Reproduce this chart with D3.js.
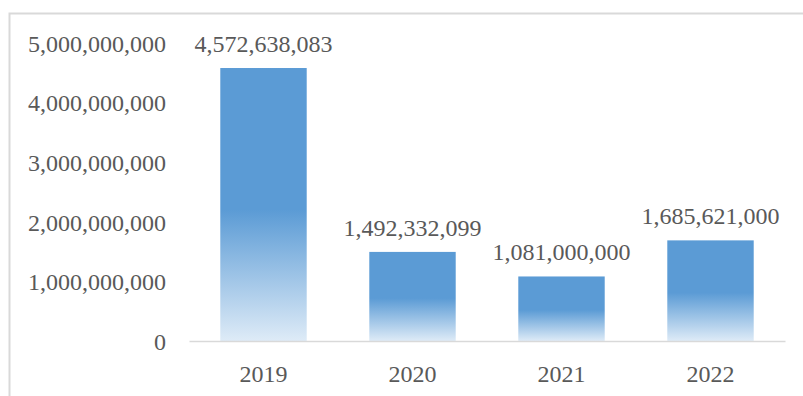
<!DOCTYPE html>
<html>
<head>
<meta charset="utf-8">
<script src="https://cdn.jsdelivr.net/npm/d3@7"></script>
<style>
  html, body { margin: 0; padding: 0; background: #fff; }
  svg { display: block; }
  text { font-family: "Liberation Serif", "Times New Roman", serif; fill: #595959; }
</style>
</head>
<body>
<div id="chart"></div>
<script>
// data
var years = ["2019", "2020", "2021", "2022"];
var amounts = [4572638083, 1492332099, 1081000000, 1685621000];
var yTicks = [0, 1000000000, 2000000000, 3000000000, 4000000000, 5000000000];

(function () {
  var W = 803, H = 396;
  var svg = d3.select("#chart").append("svg").attr("width", W).attr("height", H);

  // outer chart frame (runs off the right and bottom)
  svg.append("rect")
    .attr("x", 9.5).attr("y", 13.5)
    .attr("width", 820).attr("height", 420)
    .attr("fill", "none").attr("stroke", "#d9d9d9").attr("stroke-width", 2);

  var x = d3.scaleBand().domain(years).range([189, 785]).paddingInner(0.42).paddingOuter(0.21);
  var y = d3.scaleLinear().domain([0, 5000000000]).range([341, 42.5]);

  var fmt = d3.format(",");

  var grad = svg.append("defs").append("linearGradient")
    .attr("id", "barGrad").attr("x1", 0).attr("y1", 0).attr("x2", 0).attr("y2", 1);
  grad.append("stop").attr("offset", "0%").attr("stop-color", "#5b9bd5");
  grad.append("stop").attr("offset", "52%").attr("stop-color", "#5b9bd5");
  grad.append("stop").attr("offset", "100%").attr("stop-color", "#deebf7");

  // y axis labels only
  var yAxis = d3.axisLeft(y).tickValues(yTicks).tickFormat(fmt).tickSize(0).tickPadding(0);
  var gy = svg.append("g").attr("transform", "translate(166,0)").call(yAxis);
  gy.select(".domain").remove();
  gy.selectAll("text").style("font-size", "24px").attr("fill", "#595959")
    .style("font-family", "Liberation Serif, serif").attr("dy", "0.36em");

  // bars
  svg.selectAll("rect.bar").data(amounts).enter().append("rect")
    .attr("class", "bar")
    .attr("x", function (d, i) { return x(years[i]); })
    .attr("y", function (d) { return y(d); })
    .attr("width", x.bandwidth())
    .attr("height", function (d) { return y(0) - y(d); })
    .attr("fill", "url(#barGrad)");

  // value labels
  svg.selectAll("text.val").data(amounts).enter().append("text")
    .attr("class", "val")
    .attr("x", function (d, i) { return x(years[i]) + x.bandwidth() / 2; })
    .attr("y", function (d) { return y(d) - 16; })
    .attr("text-anchor", "middle")
    .style("font-size", "24px")
    .text(function (d) { return fmt(d); });

  // x axis
  var xAxis = d3.axisBottom(x).tickSize(0).tickPadding(0);
  var gx = svg.append("g").attr("transform", "translate(0,341)").call(xAxis);
  gx.select(".domain").attr("stroke", "#d9d9d9").attr("stroke-width", 1.5);
  gx.selectAll("text").style("font-size", "24px").attr("fill", "#595959")
    .style("font-family", "Liberation Serif, serif").attr("y", 41).attr("dy", 0);
})();
</script>
</body>
</html>
